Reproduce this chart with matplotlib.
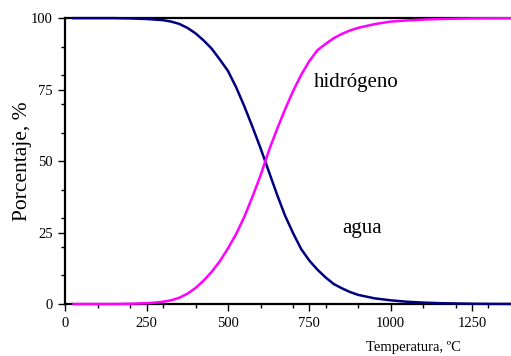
import matplotlib.pyplot as plt
from matplotlib.ticker import MultipleLocator

# temperature, degC
temperatura = [25, 50, 100, 150, 200, 250, 275, 300, 325, 350, 375, 400, 425, 450,
               475, 500, 525, 550, 575, 600, 625, 650, 675, 700, 725, 750, 775,
               800, 825, 850, 875, 900, 950, 1000, 1050, 1100, 1150, 1200, 1250,
               1300, 1350, 1400]
# percentage of water (agua) and hydrogen (hidrogeno)
agua = [100, 100, 100, 100, 99.9, 99.7, 99.5, 99.3, 98.8, 98.0, 96.6, 94.7, 92.2,
        89.3, 85.5, 81.5, 75.8, 69.2, 62.0, 54.5, 46.5, 38.5, 31.0, 24.8, 19.2,
        15.2, 12.0, 9.3, 7.0, 5.5, 4.2, 3.2, 2.0, 1.3, 0.8, 0.5, 0.3, 0.2, 0.1,
        0.05, 0.03, 0.02]
hidrogeno = [0, 0, 0, 0, 0.1, 0.3, 0.5, 0.8, 1.3, 2.2, 3.6, 5.6, 8.2, 11.3, 15.0,
             19.5, 24.5, 30.5, 37.5, 45.0, 53.5, 61.0, 68.0, 74.5, 80.2, 85.0,
             88.8, 91.0, 93.0, 94.5, 95.7, 96.6, 97.9, 98.8, 99.2, 99.5, 99.7,
             99.8, 99.9, 99.95, 99.97, 99.98]

plt.rcParams['font.family'] = ['Liberation Serif', 'DejaVu Serif']

fig = plt.figure(figsize=(5.11, 3.56), dpi=100)
ax = fig.add_axes([0.128, 0.146, 0.872, 0.803])

ax.plot(temperatura, agua, color='#000080', lw=1.8, zorder=3, clip_on=False,
        solid_joinstyle='round')
ax.plot(temperatura, hidrogeno, color='#ff00ff', lw=1.8, zorder=3, clip_on=False,
        solid_joinstyle='round')

ax.set_xlim(0, 1370)
ax.set_ylim(0, 100)
ax.xaxis.set_major_locator(MultipleLocator(250))
ax.xaxis.set_minor_locator(MultipleLocator(100))
ax.yaxis.set_major_locator(MultipleLocator(25))
ax.yaxis.set_minor_locator(MultipleLocator(10))
ax.tick_params(which='major', direction='out', length=5, width=1, labelsize=10.5, pad=4)
ax.tick_params(which='minor', direction='out', length=3, width=1)

for side in ['left', 'bottom', 'top']:
    ax.spines[side].set_linewidth(1.6)
ax.spines['right'].set_visible(False)

ax.set_ylabel('Porcentaje, %', fontsize=15.5, labelpad=-1)
ax.text(1070, -15.3, 'Temperatura, ºC', fontsize=10.5, ha='center', va='center')

ax.text(895, 77.5, 'hidrógeno', fontsize=15, ha='center', va='center')
ax.text(911, 26.5, 'agua', fontsize=15, ha='center', va='center')

fig.savefig('out.png', dpi=100)
